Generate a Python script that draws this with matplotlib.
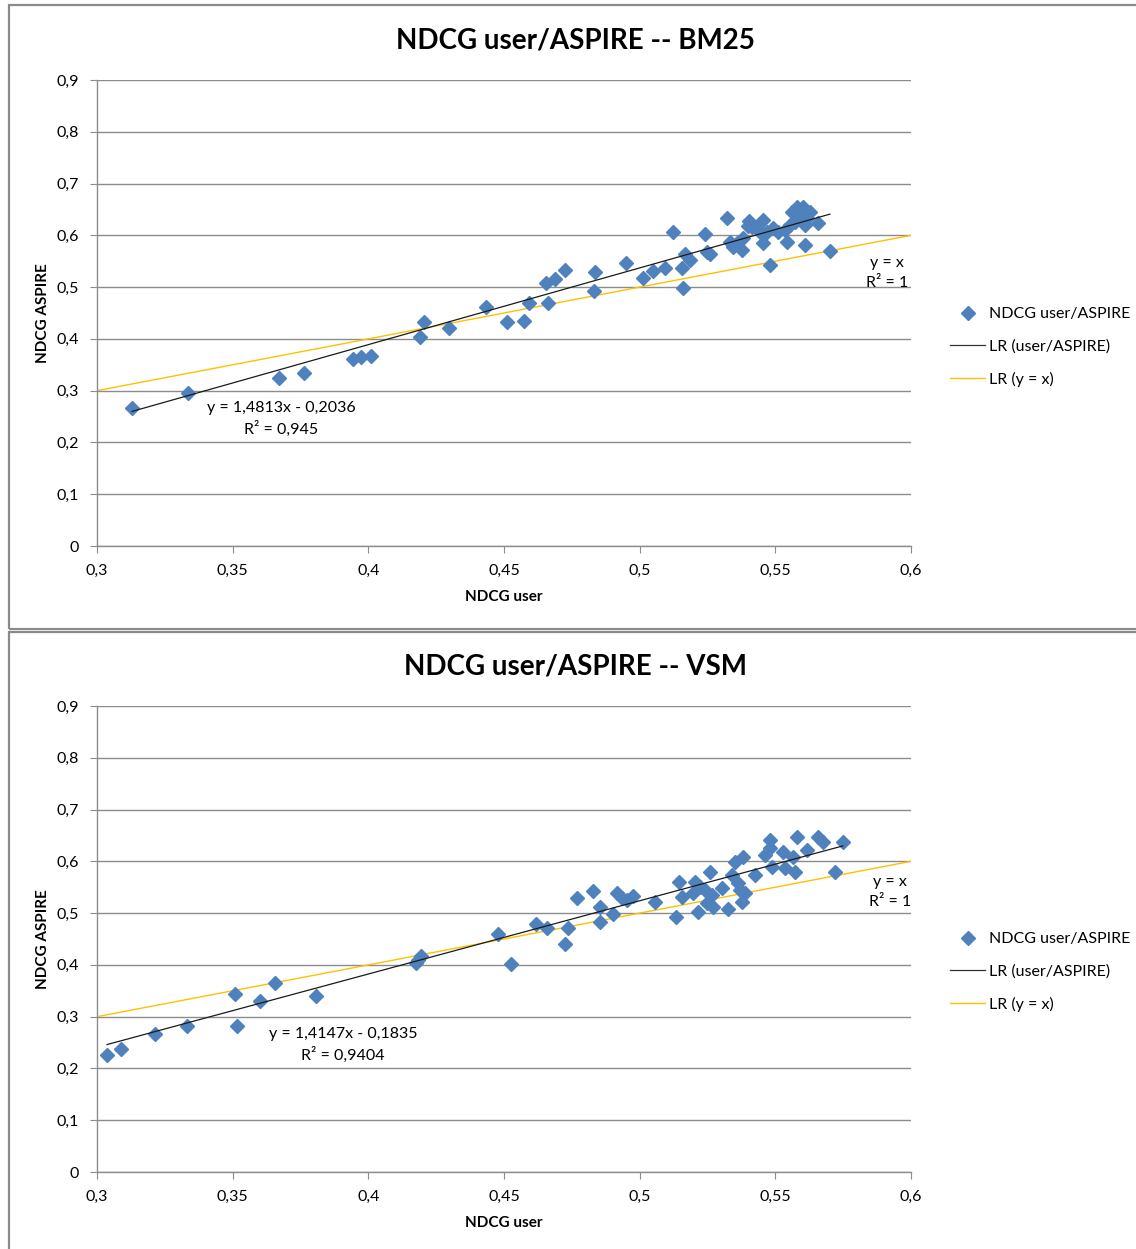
import matplotlib
matplotlib.use("Agg")
import matplotlib.pyplot as plt
from matplotlib.lines import Line2D
from matplotlib.patches import Rectangle
from matplotlib.ticker import FuncFormatter, MultipleLocator
import numpy as np

plt.rcParams['font.family'] = ['Lato', 'DejaVu Sans']

# ---------------- data ----------------
bm25_user = [0.3129, 0.3335, 0.3671, 0.3763, 0.3943, 0.3973, 0.4010, 0.4190, 0.4205, 0.4297,
             0.4434, 0.4511, 0.4574, 0.4592, 0.4662, 0.4655, 0.4688, 0.4725, 0.4832, 0.4835,
             0.4950, 0.5012, 0.5049, 0.5093, 0.5156, 0.5160, 0.5167, 0.5185, 0.5123, 0.5241,
             0.5248, 0.5259, 0.5322, 0.5333, 0.5344, 0.5359, 0.5377, 0.5381, 0.5403, 0.5414,
             0.5432, 0.5455, 0.5455, 0.5480, 0.5469, 0.5491, 0.5510, 0.5536, 0.5543, 0.5561,
             0.5580, 0.5602, 0.5591, 0.5617, 0.5609, 0.5657, 0.5701, 0.5554, 0.5572, 0.5628,
             0.5399, 0.5444, 0.5609]
bm25_aspire = [0.2665, 0.2955, 0.3245, 0.3341, 0.3612, 0.3650, 0.3669, 0.4036, 0.4326, 0.4210,
               0.4616, 0.4326, 0.4345, 0.4693, 0.4693, 0.5079, 0.5157, 0.5330, 0.4925, 0.5292,
               0.5466, 0.5176, 0.5311, 0.5369, 0.5369, 0.4983, 0.5639, 0.5524, 0.6064, 0.6026,
               0.5678, 0.5639, 0.6335, 0.5871, 0.5775, 0.5852, 0.5717, 0.5948, 0.6277, 0.6161,
               0.6142, 0.6296, 0.5852, 0.5427, 0.6064, 0.6142, 0.6064, 0.6103, 0.5871, 0.6451,
               0.6547, 0.6547, 0.6354, 0.6335, 0.5813, 0.6238, 0.5697, 0.6199, 0.6257, 0.6451,
               0.6180, 0.6064, 0.6199]

vsm_user = [0.3037, 0.3088, 0.3214, 0.3332, 0.3509, 0.3516, 0.3601, 0.3656, 0.3807, 0.4176,
            0.4194, 0.4183, 0.4478, 0.4526, 0.4618, 0.4658, 0.4725, 0.4736, 0.4769, 0.4828,
            0.4854, 0.4854, 0.4902, 0.4916, 0.4935, 0.4953, 0.4975, 0.5057, 0.5145, 0.5134,
            0.5156, 0.5204, 0.5197, 0.5222, 0.5241, 0.5259, 0.5267, 0.5248, 0.5270, 0.5215,
            0.5326, 0.5303, 0.5351, 0.5381, 0.5340, 0.5362, 0.5377, 0.5370, 0.5425, 0.5462,
            0.5480, 0.5488, 0.5528, 0.5536, 0.5565, 0.5572, 0.5580, 0.5617, 0.5657, 0.5676,
            0.5720, 0.5749, 0.5480, 0.5388]
vsm_aspire = [0.2260, 0.2375, 0.2665, 0.2820, 0.3438, 0.2820, 0.3303, 0.3650, 0.3399, 0.4036,
              0.4172, 0.4094, 0.4596, 0.4017, 0.4790, 0.4712, 0.4403, 0.4712, 0.5292, 0.5427,
              0.5118, 0.4828, 0.4983, 0.5388, 0.5292, 0.5253, 0.5330, 0.5214, 0.5601, 0.4925,
              0.5311, 0.5601, 0.5388, 0.5504, 0.5446, 0.5794, 0.5350, 0.5195, 0.5118, 0.5021,
              0.5079, 0.5485, 0.5987, 0.6084, 0.5736, 0.5581, 0.5214, 0.5446, 0.5736, 0.6122,
              0.6412, 0.5890, 0.6180, 0.5871, 0.6084, 0.5794, 0.6470, 0.6219, 0.6470, 0.6373,
              0.5794, 0.6373, 0.6257, 0.5388]

titles = ["NDCG user/ASPIRE -- BM25", "NDCG user/ASPIRE -- VSM"]
fit_slope = [1.4813, 1.4147]
fit_intercept = [-0.2036, -0.1835]
fit_r2 = ["0,945", "0,9404"]
legend_labels = ["NDCG user/ASPIRE", "LR (user/ASPIRE)", "LR (y = x)"]
x_label = "NDCG user"
y_label = "NDCG ASPIRE"

# ---------------- figure ----------------
W, H = 1136, 1249
fig = plt.figure(figsize=(W / 100, H / 100), dpi=100)

def fx(px):
    return px / W

def fy(py):
    return 1 - py / H

BLUE = "#4F81BD"
YEL = "#FFC000"
GRID = "#8C8C8C"

# chart frames
for (x0, y0, x1, y1) in [(9, 5, 1140, 629), (9, 632, 1140, 1252)]:
    fig.patches.append(Rectangle((fx(x0), fy(y1)), fx(x1 - x0), (y1 - y0) / H,
                                 transform=fig.transFigure, fill=False,
                                 edgecolor="#8A8A8A", linewidth=1.6))

fmt = FuncFormatter(lambda v, p: ("%g" % round(v, 2)).replace(".", ","))

panels = [
    (bm25_user, bm25_aspire, 80, 546, 40, (281, 408), (887, 263), 347),
    (vsm_user, vsm_aspire, 706, 1172, 666, (343, 1034), (890, 882), 972),
]

for i, (xs, ys, top, bot, ttl_y, eq_xy, yx_xy, leg_y) in enumerate(panels):
    ax = fig.add_axes([fx(97), fy(bot), fx(911 - 97), (bot - top) / H])
    ax.set_xlim(0.3, 0.6)
    ax.set_ylim(0, 0.9)
    ax.xaxis.set_major_locator(MultipleLocator(0.05))
    ax.yaxis.set_major_locator(MultipleLocator(0.1))
    ax.xaxis.set_major_formatter(fmt)
    ax.yaxis.set_major_formatter(fmt)
    ax.grid(axis="y", color=GRID, linewidth=1.0)
    ax.set_axisbelow(True)
    for s in ["top", "right"]:
        ax.spines[s].set_visible(False)
    for s in ["left", "bottom"]:
        ax.spines[s].set_color(GRID)
        ax.spines[s].set_linewidth(1.0)
    ax.tick_params(axis="both", direction="out", length=5, color=GRID,
                   labelsize=11.5, labelcolor="#000000")
    ax.tick_params(axis="x", pad=8)
    ax.tick_params(axis="y", pad=8)

    # y = x line
    ax.plot([0.3, 0.6], [0.3, 0.6], color=YEL, linewidth=1.0, zorder=2,
            label=legend_labels[2])
    # scatter
    ax.plot(xs, ys, linestyle="none", marker="D", markersize=7.5,
            color=BLUE, markeredgecolor=BLUE, zorder=3, label=legend_labels[0])
    # regression line
    xr = np.array([min(xs), max(xs)])
    ax.plot(xr, fit_slope[i] * xr + fit_intercept[i], color="#1A1A1A",
            linewidth=0.9, zorder=4, label=legend_labels[1])

    fig.text(fx(575), fy(ttl_y), titles[i], ha="center", va="center",
             fontsize=20, fontweight="bold")
    fig.text(fx(504), fy(bot + 51), x_label, ha="center", va="center",
             fontsize=11, fontweight="bold")
    fig.text(fx(43), fy((top + bot) / 2), y_label, ha="center", va="center",
             rotation=90, fontsize=11, fontweight="bold")

    eq = "y = %sx - %s" % (str(fit_slope[i]).replace(".", ","),
                          str(abs(fit_intercept[i])).replace(".", ","))
    fig.text(fx(eq_xy[0]), fy(eq_xy[1]), eq, ha="center", va="center", fontsize=11.5)
    fig.text(fx(eq_xy[0]), fy(eq_xy[1] + 21), "R² = " + fit_r2[i], ha="center",
             va="center", fontsize=11.5)
    fig.text(fx(yx_xy[0]), fy(yx_xy[1]), "y = x", ha="center", va="center", fontsize=11.5)
    fig.text(fx(yx_xy[0]), fy(yx_xy[1] + 20), "R² = 1", ha="center", va="center",
             fontsize=11.5)

    handles = [
        Line2D([], [], linestyle="none", marker="D", markersize=7, color=BLUE),
        Line2D([], [], color="#333333", linewidth=0.9),
        Line2D([], [], color=YEL, linewidth=1.0),
    ]
    ax.legend(handles, legend_labels, loc="center left",
              bbox_to_anchor=(fx(950), fy(leg_y)), bbox_transform=fig.transFigure,
              frameon=False, fontsize=11.5, handlelength=2.2, handletextpad=0.25,
              labelspacing=1.12, borderaxespad=0, borderpad=0)

fig.savefig("out.png", dpi=100)
